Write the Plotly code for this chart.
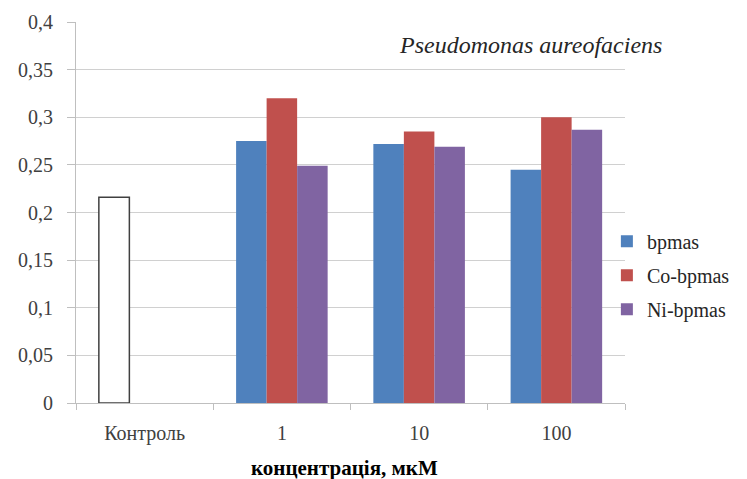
import plotly.graph_objects as go

# Concentration groups (x axis) and optical density values per compound
categories = ["Контроль", "1", "10", "100"]
control_label = ["Контроль"]
control_value = [0.216]

dose_labels = ["1", "10", "100"]
bpmas = [0.275, 0.272, 0.245]
co_bpmas = [0.320, 0.285, 0.300]
ni_bpmas = [0.249, 0.269, 0.287]

y_ticks = [0, 0.05, 0.1, 0.15, 0.2, 0.25, 0.3, 0.35, 0.4]
y_tick_text = ["0", "0,05", "0,1", "0,15", "0,2", "0,25", "0,3", "0,35", "0,4"]

SERIF = "Liberation Serif"
BLUE = "#4F81BD"
RED = "#C0504D"
PURPLE = "#8064A2"

fig = go.Figure()

# control bar sits in the first slot of its group, white with a dark outline
fig.add_trace(go.Bar(
    x=control_label, y=control_value, name="Контроль",
    offsetgroup="a", showlegend=False,
    marker=dict(color="white", line=dict(color="#404040", width=1.5)),
))
fig.add_trace(go.Bar(x=dose_labels, y=bpmas, name="bpmas", offsetgroup="a",
                     legendgroup="bpmas",
                     marker=dict(color=BLUE, line=dict(width=0))))
fig.add_trace(go.Bar(x=dose_labels, y=co_bpmas, name="Co-bpmas", offsetgroup="b",
                     legendgroup="co",
                     marker=dict(color=RED, line=dict(width=0))))
fig.add_trace(go.Bar(x=dose_labels, y=ni_bpmas, name="Ni-bpmas", offsetgroup="c",
                     legendgroup="ni",
                     marker=dict(color=PURPLE, line=dict(width=0))))

fig.update_layout(
    width=747, height=479,
    margin=dict(l=76, r=119, t=22, b=76),
    paper_bgcolor="white", plot_bgcolor="white",
    barmode="group", bargap=0.333, bargroupgap=0,
    font=dict(family=SERIF, size=19, color="#404040"),
    legend=dict(
        x=0.967, xanchor="left", y=0.335, yanchor="middle",
        bgcolor="rgba(0,0,0,0)", font=dict(family=SERIF, size=20, color="#262626"),
        itemwidth=30, traceorder="grouped", tracegroupgap=5,
    ),
    xaxis=dict(
        type="category", categoryorder="array", categoryarray=categories,
        showline=True, linecolor="#bfbfbf", linewidth=1,
        ticks="outside", ticklen=6, tickcolor="#bfbfbf", tickson="boundaries",
        showgrid=False, ticklabelstandoff=12,
        tickfont=dict(family=SERIF, size=20, color="#404040"),
    ),
    yaxis=dict(
        range=[0, 0.4], tickvals=y_ticks, ticktext=y_tick_text,
        showline=True, linecolor="#bfbfbf", linewidth=1,
        ticks="outside", ticklen=8, tickcolor="#bfbfbf",
        showgrid=True, gridcolor="#d0d0d0", gridwidth=1,
        zeroline=False, ticklabelstandoff=10,
        tickfont=dict(family=SERIF, size=20, color="#404040"),
    ),
    annotations=[
        dict(text="<i>Pseudomonas aureofaciens</i>", xref="paper", yref="paper",
             x=0.828, y=0.94, xanchor="center", yanchor="middle", showarrow=False,
             font=dict(family=SERIF, size=24, color="#262626")),
        dict(text="<b>концентрація, мкМ</b>", xref="paper", yref="paper",
             x=0.489, y=-0.171, xanchor="center", yanchor="middle", showarrow=False,
             font=dict(family=SERIF, size=21, color="#000000")),
    ],
)

fig.write_html("out.html")
